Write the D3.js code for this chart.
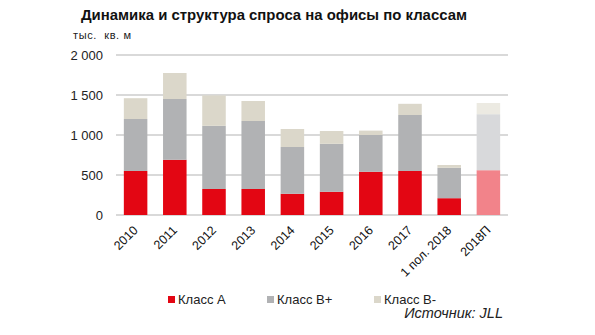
<!DOCTYPE html>
<html><head><meta charset="utf-8">
<script src="https://cdn.jsdelivr.net/npm/d3@7"></script>
<style>body{margin:0;background:#fff}svg{font-family:"Liberation Sans",Arial,sans-serif}</style>
</head><body><svg id="c" width="595" height="335"></svg>
<script>
const categories = ["2010","2011","2012","2013","2014","2015","2016","2017","1 пол. 2018","2018П"];
const classA  = [550, 690, 325, 325, 265, 290, 540, 550, 210, 560];
const classBp = [650, 760, 790, 850, 585, 600, 460, 700, 380, 700];
const classBm = [260, 325, 380, 250, 225, 160, 55, 140, 35, 140];
const seriesNames = ["Класс А","Класс В+","Класс В-"];
const yTicks = [0, 500, 1000, 1500, 2000];
const forecast = "2018П";

const colors = ["#e30613","#b1b2b4","#dbd7ca"];
const lightColors = ["#f2838a","#d8d9db","#eceae2"];

const svg = d3.select("#c");
const x = d3.scaleBand().domain(categories).range([116,508]).paddingInner(0.4).paddingOuter(0.2);
const y = d3.scaleLinear().domain([0,2000]).range([215,55]);

svg.append("text").attr("x",81).attr("y",20).attr("font-size",15).attr("font-weight","bold").attr("fill","#111")
  .attr("textLength",386).attr("lengthAdjust","spacingAndGlyphs")
  .text("Динамика и структура спроса на офисы по классам");
svg.append("text").attr("x",73).attr("y",39).attr("font-size",11).attr("fill","#222")
  .attr("textLength",58).attr("lengthAdjust","spacing").style("white-space","pre").text("тыс.  кв. м");

// grid
svg.append("g").selectAll("line").data(yTicks).join("line")
  .attr("x1",116).attr("x2",508).attr("y1",d=>y(d)).attr("y2",d=>y(d))
  .attr("stroke","#b3b3b3").attr("stroke-width",1);
const fmt = d => d3.format(",")(d).replace(",", " ");
svg.append("g").selectAll("text").data(yTicks).join("text")
  .attr("x",103).attr("y",d=>y(d)+4.5).attr("text-anchor","end").attr("font-size",13).attr("fill","#222")
  .text(fmt);

const data = categories.map((c,i)=>({cat:c, A:classA[i], Bp:classBp[i], Bm:classBm[i]}));
const stack = d3.stack().keys(["A","Bp","Bm"])(data);
svg.append("g").selectAll("g").data(stack).join("g")
  .each(function(s, si){
    d3.select(this).selectAll("rect").data(s).join("rect")
      .attr("x", d=>x(d.data.cat)).attr("width", x.bandwidth())
      .attr("y", d=>y(d[1])).attr("height", d=>y(d[0])-y(d[1]))
      .attr("fill", d=> d.data.cat===forecast ? lightColors[si] : colors[si]);
  });

// x labels
svg.append("g").selectAll("text").data(categories).join("text")
  .attr("transform", d=>`translate(${x(d)+x.bandwidth()/2+3},${231}) rotate(-45)`)
  .attr("text-anchor","end").attr("font-size",12.5).attr("fill","#111").text(d=>d);

// legend
const lx = [168, 267, 374];
const lg = svg.append("g").selectAll("g").data(seriesNames).join("g")
  .attr("transform",(d,i)=>`translate(${lx[i]},296)`);
lg.append("rect").attr("width",7).attr("height",7).attr("y",0).attr("fill",(d,i)=>colors[i]);
lg.append("text").attr("x",10).attr("y",8).attr("font-size",13).attr("fill","#222").text(d=>d);

svg.append("text").attr("x",503).attr("y",318).attr("text-anchor","end").attr("font-size",14.5)
  .attr("font-style","italic").attr("fill","#222").text("Источник: JLL");
</script></body></html>
